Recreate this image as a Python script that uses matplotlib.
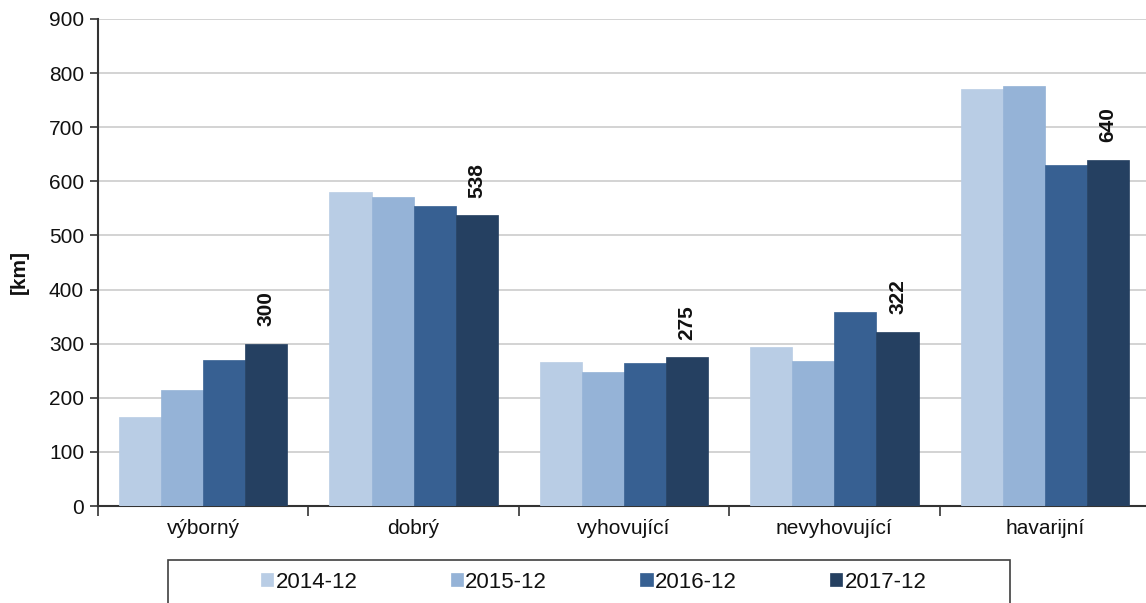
import matplotlib
matplotlib.use("Agg")
import matplotlib.pyplot as plt
import numpy as np
from matplotlib.patches import Rectangle

plt.rcParams["font.family"] = ["Liberation Sans", "DejaVu Sans"]

CATEGORIES = ["výborný", "dobrý", "vyhovující", "nevyhovující", "havarijní"]
SERIES = ["2014-12", "2015-12", "2016-12", "2017-12"]
V_2014 = [165, 581, 266, 294, 771]
V_2015 = [215, 571, 248, 268, 776]
V_2016 = [269, 554, 265, 358, 631]
V_2017 = [300, 538, 275, 322, 640]
COLORS = ["#b9cde5", "#95b3d7", "#376092", "#254061"]

values = [V_2014, V_2015, V_2016, V_2017]
TXT = "#111111"

W, H = 1146, 603
fig = plt.figure(figsize=(W / 100, H / 100), dpi=100)
ax = fig.add_axes([98 / W, (H - 506) / H, (1150 - 98) / W, (506 - 19) / H])

x = np.arange(len(CATEGORIES))
bw = 0.2
offsets = (np.arange(len(SERIES)) - 1.5) * bw
for i, (name, vals) in enumerate(zip(SERIES, values)):
    ax.bar(x + offsets[i], vals, width=bw, color=COLORS[i], label=name,
           edgecolor=COLORS[i], linewidth=0.5, zorder=3)

# labels on the latest series only
for xi, v in zip(x, V_2017):
    ax.text(xi + offsets[-1], v + 32, f"{v}", rotation=90, ha="center",
            va="bottom", fontsize=15, fontweight="bold", color=TXT)

ax.set_xlim(-0.5, len(CATEGORIES) - 0.5)
ax.set_ylim(0, 900)
ax.set_yticks(np.arange(0, 901, 100))
ax.yaxis.grid(True, color="#cccccc", linewidth=1.2, zorder=0)
ax.set_axisbelow(True)

ax.set_xticks(x)
ax.set_xticklabels(CATEGORIES, fontsize=15, color=TXT)
ax.set_xticks(np.arange(-0.5, len(CATEGORIES)), minor=True)
ax.tick_params(axis="x", which="major", length=0, pad=9)
ax.tick_params(axis="x", which="minor", length=7, width=1.2, color="#333333",
               direction="out")
ax.tick_params(axis="y", length=6, width=1.2, color="#333333", labelsize=15,
               labelcolor=TXT, pad=4)

for s in ["top", "right"]:
    ax.spines[s].set_visible(False)
for s in ["left", "bottom"]:
    ax.spines[s].set_color("#333333")
    ax.spines[s].set_linewidth(1.5)

ax.set_ylabel("[km]", fontsize=15, fontweight="bold", color=TXT)
ax.yaxis.set_label_coords(-0.066, 0.48)

# legend frame (runs off the bottom edge)
fig.patches.append(Rectangle((168 / W, -0.05), (1010 - 168) / W,
                             (H - 560) / H + 0.05, transform=fig.transFigure,
                             fill=False, edgecolor="#404040", linewidth=1.2))
fig.legend(loc="center", bbox_to_anchor=(0.518, (H - 582) / H), ncol=4,
           frameon=False, fontsize=16, handlelength=0.55, handleheight=0.55,
           handletextpad=0.1, columnspacing=4.2, borderpad=0,
           labelcolor=TXT)

fig.savefig("out.png", dpi=100)
